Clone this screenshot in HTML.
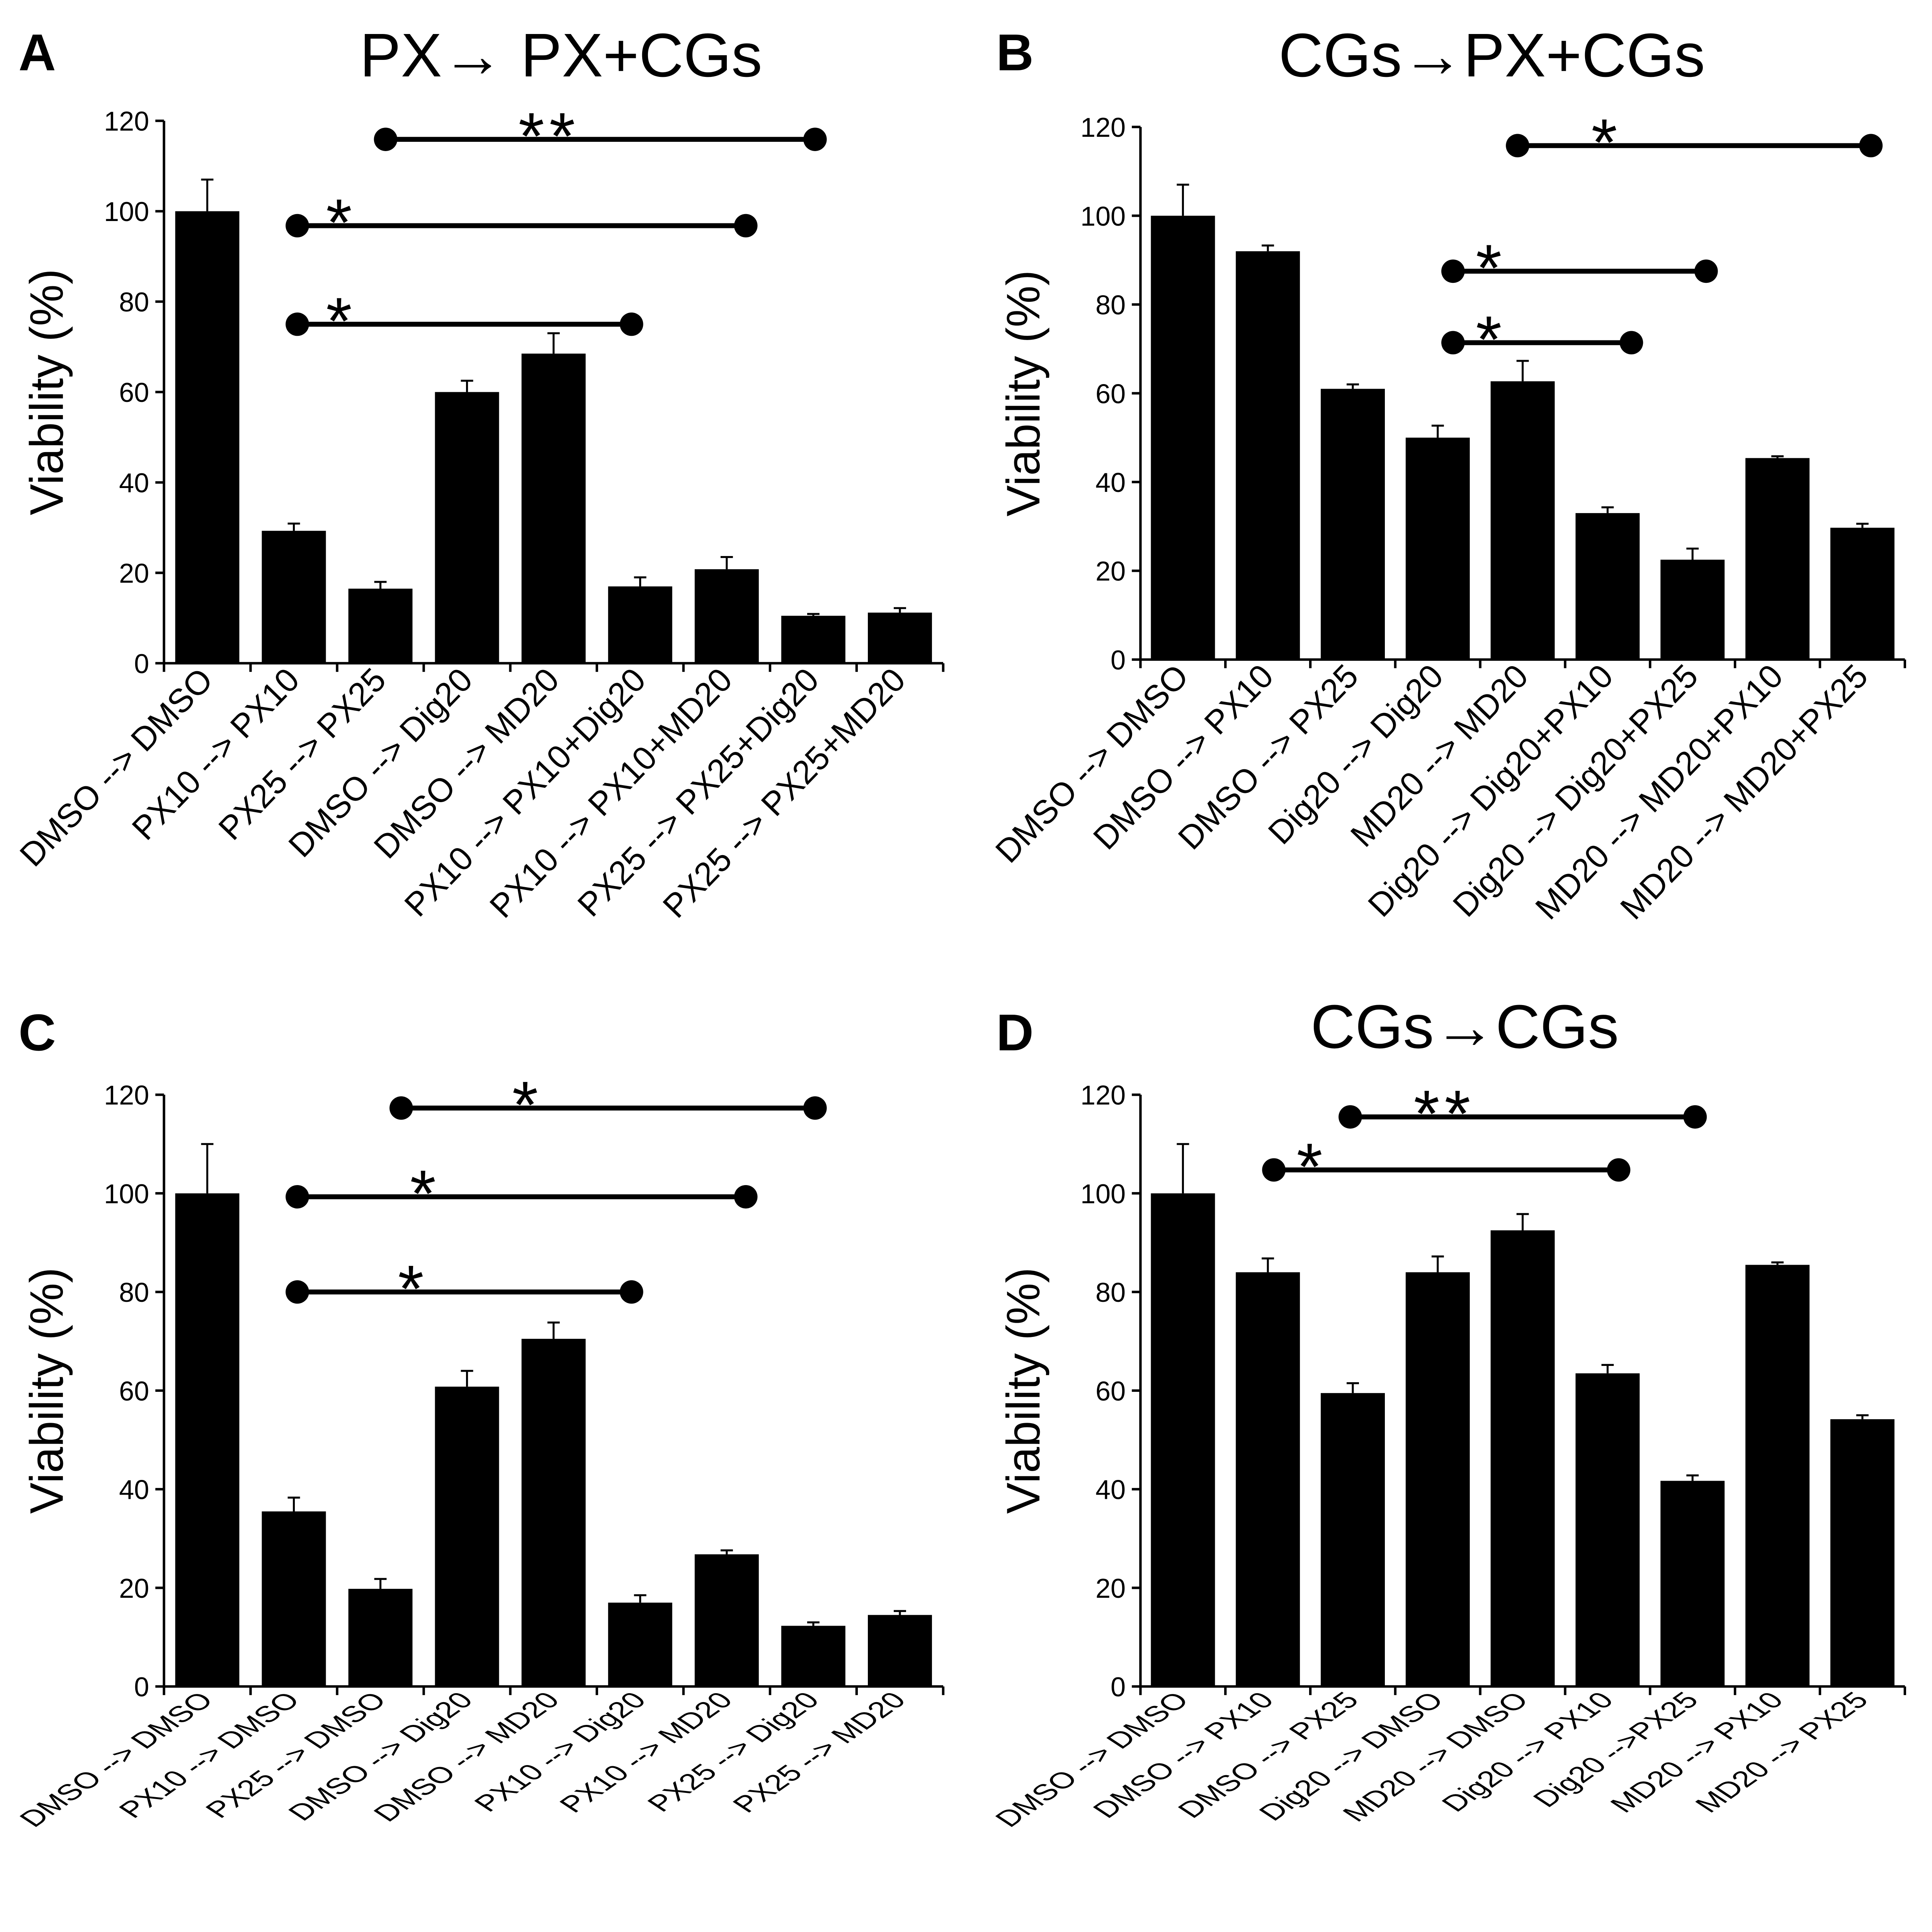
<!DOCTYPE html>
<html><head><meta charset="utf-8"><style>
html,body{margin:0;padding:0;background:#fff;width:100%;height:100%;overflow:hidden;}
svg{display:block;position:absolute;left:0;top:0;width:100vw;height:calc(100vw * 0.952037);}
text{font-family:"Liberation Sans",Arial,sans-serif;fill:#000;}
</style></head>
<body>
<svg id="fig" xmlns="http://www.w3.org/2000/svg" viewBox="0 0 1567 1492" preserveAspectRatio="none"></svg>
<script>
// ---- Data ----
const catsA = ["DMSO --> DMSO","PX10 --> PX10","PX25 --> PX25","DMSO --> Dig20","DMSO --> MD20","PX10 --> PX10+Dig20","PX10 --> PX10+MD20","PX25 --> PX25+Dig20","PX25 --> PX25+MD20"];
const valsA = [100,29.3,16.5,60,68.5,17,20.8,10.5,11.2];
const errA  = [7,1.6,1.5,2.5,4.5,2,2.7,0.4,1];
const catsB = ["DMSO --> DMSO","DMSO --> PX10","DMSO --> PX25","Dig20 --> Dig20","MD20 --> MD20","Dig20 --> Dig20+PX10","Dig20 --> Dig20+PX25","MD20 --> MD20+PX10","MD20 --> MD20+PX25"];
const valsB = [100,92,61,50,62.7,33,22.5,45.4,29.7];
const errB  = [7,1.3,1,2.7,4.6,1.3,2.5,0.4,0.9];
const catsC = ["DMSO --> DMSO","PX10 --> DMSO","PX25 --> DMSO","DMSO --> Dig20","DMSO --> MD20","PX10 --> Dig20","PX10 --> MD20","PX25 --> Dig20","PX25 --> MD20"];
const valsC = [100,35.5,19.8,60.8,70.5,17,26.8,12.3,14.5];
const errC  = [10,2.8,2,3.2,3.3,1.5,0.8,0.7,0.8];
const catsD = ["DMSO --> DMSO","DMSO --> PX10","DMSO --> PX25","Dig20 --> DMSO","MD20 --> DMSO","Dig20 --> PX10","Dig20 -->PX25","MD20 --> PX10","MD20 --> PX25"];
const valsD = [100,84,59.5,84,92.5,63.5,41.7,85.5,54.2];
const errD  = [10,2.8,2,3.2,3.3,1.7,1.1,0.5,0.8];
const yTicks = [0,20,40,60,80,100,120];
// brackets: [startUnit, endUnit, value, starUnit, label]
const brA = [[2.56,7.52,115.9,4.45,"**"],[1.54,6.72,96.8,2.05,"*"],[1.54,5.4,75,2.05,"*"]];
const brB = [[4.44,8.6,115.8,5.49,"*"],[3.68,6.66,87.5,4.13,"*"],[3.68,5.78,71.4,4.13,"*"]];
const brC = [[2.74,7.52,117.3,4.2,"*"],[1.54,6.72,99.3,3.02,"*"],[1.54,5.4,80,2.88,"*"]];
const brD = [[2.47,6.53,115.5,3.58,"**"],[1.57,5.63,104.75,2.02,"*"]];

const NS="http://www.w3.org/2000/svg";
const svg=document.getElementById('fig');
function mk(tag,attrs,parent){const e=document.createElementNS(NS,tag);for(const k in attrs)e.setAttribute(k,attrs[k]);(parent||svg).appendChild(e);return e;}

function panel(id,letter,lx,ly,title,titleX,titleY,ax,y0,y120,xEnd,cats,vals,errs,brs,labSy){
  const g=mk('g',{});
  
  
  const n=cats.length, cw=(xEnd-ax)/n;
  const X=u=>ax+u*cw;
  const Y=v=>y0-(y0-y120)*v/120;
  const L=mk('text',{x:lx,y:ly,'font-size':42,'font-weight':'bold'},g);
  L.textContent=letter;
  
  
  if(title){const t=mk('text',{x:titleX,y:titleY,'font-size':50,'text-anchor':'middle'},g);t.textContent=title;
    
    }
  const yl=mk('text',{transform:`translate(${ax-82},${(y0+y120)/2}) rotate(-90)`,'font-size':38,'text-anchor':'middle'},g);
  yl.textContent='Viability (%)';
  
  
  vals.forEach((v,i)=>{
    const c=X(i+0.5);
    const b=mk('rect',{x:c-26,y:Y(v),width:52,height:Y(0)-Y(v),fill:'#000'},g);
    
    
    const e=mk('path',{d:`M${c} ${Y(v)} V${Y(v+errs[i])} M${c-5} ${Y(v+errs[i])} H${c+5}`,stroke:'#000','stroke-width':1.6,fill:'none'},g);
    
    
  });
  const axis=mk('path',{d:`M${ax} ${Y(120)} V${Y(0)} H${xEnd}`,stroke:'#000','stroke-width':2,fill:'none'},g);
  
  
  yTicks.forEach(t=>{
    mk('line',{x1:ax-7,x2:ax,y1:Y(t),y2:Y(t),stroke:'#000','stroke-width':2},g);
    const tl=mk('text',{x:ax-12,y:Y(t)+8,'font-size':22,'text-anchor':'end'},g);
    tl.textContent=t;
    
    
  });
  for(let i=0;i<=n;i++) mk('line',{x1:X(i),x2:X(i),y1:Y(0),y2:Y(0)+7,stroke:'#000','stroke-width':2},g);
  cats.forEach((c,i)=>{
    const x=X(i+0.5)+6, y=Y(0)+(labSy<1?12:15);
    const t=mk('text',{transform:`translate(${x},${y}) scale(1,${labSy}) rotate(-46)`,'font-size':27,'text-anchor':'end'},g);
    t.textContent=c;
    
    
  });
  brs.forEach(b=>{
    const y=Y(b[2]);
    const bg=mk('g',{},g);
    
    
    mk('line',{x1:X(b[0]),x2:X(b[1]),y1:y,y2:y,stroke:'#000','stroke-width':4},bg);
    mk('circle',{cx:X(b[0]),cy:y,r:9.5,fill:'#000'},bg);
    mk('circle',{cx:X(b[1]),cy:y,r:9.5,fill:'#000'},bg);
    const s=mk('text',{x:X(b[3]),y:y+16,'font-size':54,'text-anchor':'middle','letter-spacing':4},bg);
    s.textContent=b[4];
  });
}
panel('a','A',15,57,'PX\u2192 PX+CGs',455,62,133,538,98,765,catsA,valsA,errA,brA,1);
panel('b','B',808,57,'CGs\u2192PX+CGs',1210,62,925,535,103,1545,catsB,valsB,errB,brB,1);
panel('c','C',15,852,'',0,0,133,1368,888,765,catsC,valsC,errC,brC,0.68);
panel('d','D',808,852,'CGs\u2192CGs',1188,850,925,1368,888,1545,catsD,valsD,errD,brD,0.68);
</script>
</body></html>
